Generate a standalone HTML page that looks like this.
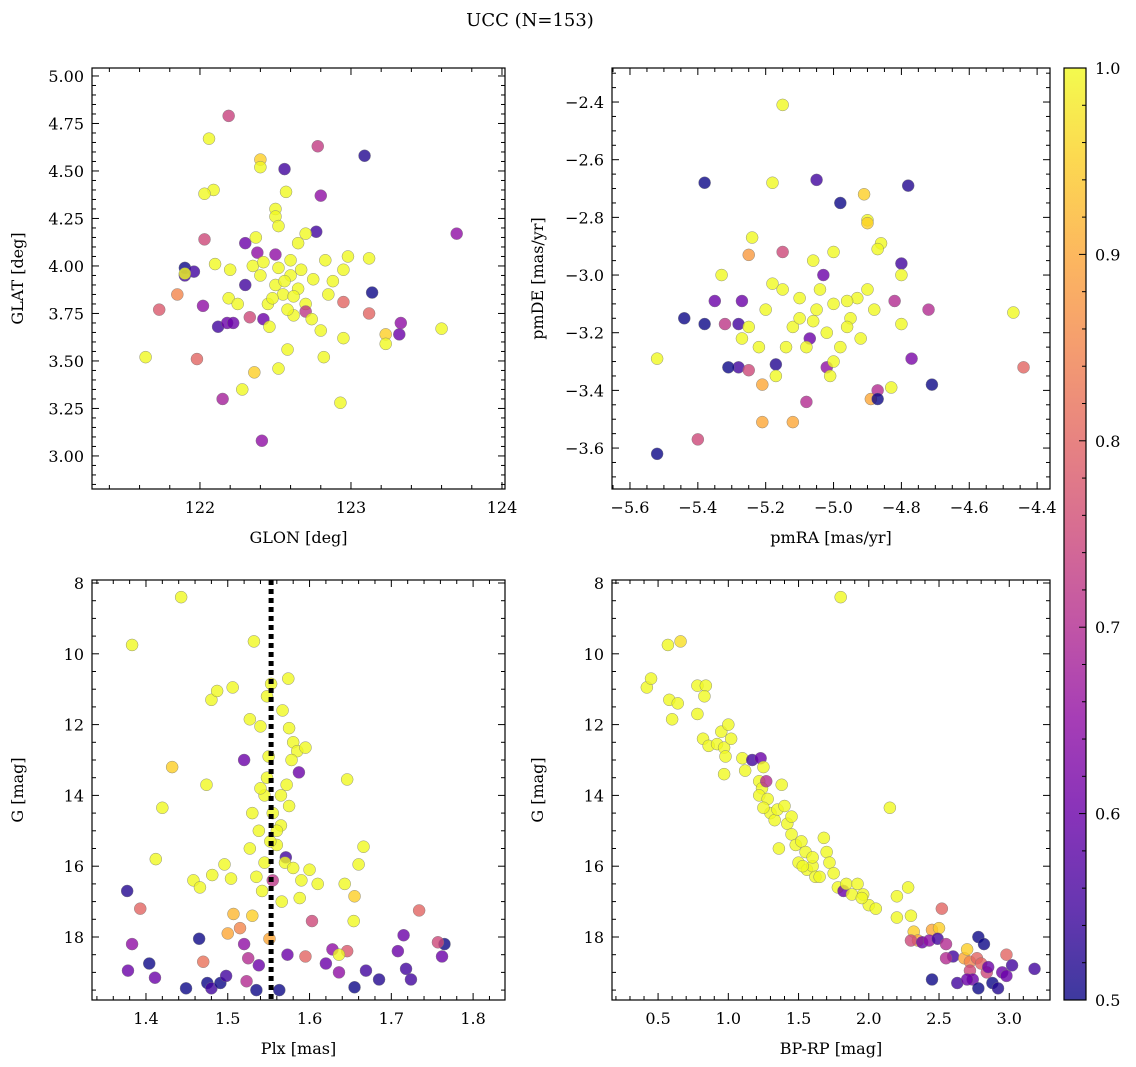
<!DOCTYPE html>
<html><head><meta charset="utf-8"><style>
html,body{margin:0;padding:0;background:#fff;}
svg{display:block;font-family:"DejaVu Serif","Liberation Serif",serif;}
</style></head><body>
<svg id="fig" width="1136" height="1067" viewBox="0 0 1136 1067">
<text x="530" y="26" font-size="18" text-anchor="middle">UCC (N=153)</text>
</svg>
<script>
const NS='http://www.w3.org/2000/svg';
const svg=document.getElementById('fig');
// ---- data ----
const glonGlat=[[122.19,4.79,.74],[122.06,4.67,1],[122.40,4.56,.95],[122.40,4.52,1],[122.56,4.51,.55],[122.78,4.63,.73],[123.09,4.58,.52],[122.80,4.37,.65],[122.09,4.40,1],[122.03,4.38,1],[122.57,4.39,1],[122.50,4.30,1],[122.50,4.26,1],[122.52,4.21,1],[123.70,4.17,.65],[122.03,4.14,.75],[122.30,4.12,.6],[122.37,4.15,1],[121.90,3.99,.5],[121.90,3.95,.55],[121.96,3.97,.55],[121.90,3.96,1],[121.85,3.85,.85],[121.73,3.77,.78],[121.64,3.52,1],[121.98,3.51,.8],[122.02,3.79,.65],[122.19,3.83,1],[122.12,3.68,.55],[122.18,3.70,.6],[122.22,3.70,.6],[122.15,3.30,.68],[122.28,3.35,1],[122.36,3.44,.95],[122.52,3.46,1],[122.58,3.56,1],[122.41,3.08,.65],[122.93,3.28,1],[123.14,3.86,.5],[123.12,3.75,.8],[122.95,3.81,.8],[123.23,3.64,.95],[123.23,3.59,1],[123.32,3.64,.6],[123.33,3.70,.65],[123.60,3.67,1],[123.12,4.04,1],[122.98,4.05,1],[122.95,3.98,1],[122.83,4.03,1],[122.77,4.18,.55],[122.70,4.17,1],[122.65,4.12,1],[122.82,3.52,1],[122.95,3.62,1],[122.80,3.66,1],[122.45,3.80,1],[122.50,3.90,1],[122.55,3.85,1],[122.60,3.95,1],[122.65,3.88,1],[122.70,3.80,1],[122.40,3.95,1],[122.35,4.00,1],[122.30,3.90,.55],[122.42,3.72,.6],[122.46,3.68,1],[122.62,3.74,1],[122.70,3.76,.72],[122.74,3.72,1],[122.85,3.85,1],[122.88,3.92,1],[122.25,3.80,1],[122.33,3.73,.75],[122.38,4.07,.65],[122.42,4.02,1],[122.10,4.01,1],[122.20,3.98,1],[122.60,4.03,1],[122.67,3.98,1],[122.75,3.93,1],[122.50,4.06,.65],[122.52,3.99,1],[122.58,3.77,1],[122.48,3.83,1],[122.62,3.84,1],[122.56,3.92,1]];
const pmData=[[-5.15,-2.41,1],[-5.38,-2.68,.5],[-5.18,-2.68,1],[-5.05,-2.67,.55],[-4.78,-2.69,.52],[-4.91,-2.72,.95],[-4.98,-2.75,.5],[-4.90,-2.81,1],[-4.90,-2.82,.95],[-4.86,-2.89,1],[-4.87,-2.91,1],[-5.24,-2.87,1],[-5.25,-2.93,.88],[-5.15,-2.92,.75],[-4.80,-2.96,.55],[-5.33,-3.00,1],[-5.03,-3.00,.6],[-5.35,-3.09,.6],[-5.27,-3.09,.6],[-5.44,-3.15,.5],[-5.38,-3.17,.5],[-5.32,-3.17,.72],[-5.28,-3.17,.55],[-5.25,-3.18,1],[-5.28,-3.32,.55],[-5.31,-3.32,.5],[-5.25,-3.33,.75],[-5.17,-3.31,.52],[-5.07,-3.22,.6],[-5.52,-3.29,1],[-5.52,-3.62,.5],[-5.40,-3.57,.75],[-5.21,-3.51,.9],[-5.12,-3.51,.9],[-5.21,-3.38,.9],[-5.08,-3.44,.7],[-5.02,-3.32,.65],[-4.89,-3.43,.9],[-4.87,-3.40,.7],[-4.87,-3.43,.5],[-4.83,-3.39,1],[-4.77,-3.29,.62],[-4.71,-3.38,.5],[-4.82,-3.09,.7],[-4.80,-3.17,1],[-4.72,-3.12,.7],[-4.80,-3.00,1],[-4.47,-3.13,1],[-4.44,-3.32,.8],[-5.18,-3.03,1],[-5.15,-3.05,1],[-5.10,-3.08,1],[-5.05,-3.12,1],[-5.00,-3.10,1],[-4.95,-3.15,1],[-5.02,-3.20,1],[-5.08,-3.25,1],[-5.12,-3.18,1],[-4.98,-3.25,1],[-4.93,-3.08,1],[-5.20,-3.12,1],[-5.10,-3.15,1],[-5.04,-3.05,1],[-4.96,-3.18,1],[-5.00,-3.30,1],[-4.88,-3.12,1],[-5.06,-2.95,1],[-5.00,-2.92,1],[-5.14,-3.25,1],[-5.22,-3.25,1],[-4.92,-3.22,1],[-5.01,-3.35,1],[-5.17,-3.35,1],[-5.27,-3.22,1],[-4.90,-3.05,1],[-4.96,-3.09,1],[-5.06,-3.16,1]];
const plxData=[[1.443,8.4,1],[1.383,9.75,1],[1.532,9.65,1],[1.432,13.2,.95],[1.420,14.35,1],[1.412,15.8,1],[1.377,16.7,.52],[1.393,17.2,.8],[1.383,18.2,.65],[1.378,18.95,.6],[1.411,19.15,.6],[1.404,18.75,.5],[1.449,19.45,.5],[1.458,16.4,1],[1.466,16.6,1],[1.480,11.3,1],[1.487,11.05,1],[1.506,10.95,1],[1.474,13.7,1],[1.481,16.25,1],[1.504,16.35,1],[1.496,15.95,1],[1.507,17.35,.92],[1.500,17.9,.9],[1.515,17.75,.85],[1.520,13.0,.6],[1.527,11.85,1],[1.465,18.05,.5],[1.470,18.7,.82],[1.475,19.3,.5],[1.480,19.45,.55],[1.491,19.3,.5],[1.498,19.1,.55],[1.520,18.2,.65],[1.523,19.25,.7],[1.525,18.6,.7],[1.535,19.5,.5],[1.538,18.8,.6],[1.563,19.5,.5],[1.573,18.5,.6],[1.551,18.05,.9],[1.555,16.4,.72],[1.571,15.75,.55],[1.566,17.0,1],[1.587,13.35,.6],[1.603,17.55,.75],[1.620,18.75,.6],[1.595,18.55,.8],[1.628,18.35,.65],[1.636,19.0,.65],[1.646,18.4,.78],[1.636,18.5,1],[1.655,16.85,.95],[1.654,17.55,1],[1.646,13.55,1],[1.666,15.45,1],[1.660,15.95,1],[1.643,16.5,1],[1.669,18.95,.55],[1.685,19.2,.52],[1.708,18.4,.6],[1.734,17.25,.8],[1.715,17.95,.6],[1.718,18.9,.55],[1.724,19.2,.55],[1.765,18.2,.5],[1.757,18.15,.75],[1.762,18.55,.6],[1.655,19.42,.5],[1.540,12.05,1],[1.548,11.2,1],[1.553,10.85,1],[1.574,10.7,1],[1.567,11.6,1],[1.575,12.1,1],[1.580,12.5,1],[1.585,12.75,1],[1.595,12.65,1],[1.578,13.0,1],[1.575,14.3,1],[1.565,14.85,1],[1.560,15.4,1],[1.545,15.9,1],[1.538,15.0,1],[1.545,14.0,1],[1.548,13.5,1],[1.550,12.9,1],[1.540,13.8,1],[1.555,14.5,1],[1.560,15.0,1],[1.570,15.9,1],[1.580,16.05,1],[1.590,16.4,1],[1.600,16.1,1],[1.610,16.5,1],[1.588,16.9,1],[1.535,16.3,1],[1.527,15.5,1],[1.530,14.5,1],[1.572,13.7,1],[1.565,14.0,1],[1.552,15.3,1],[1.542,16.7,1],[1.530,17.4,.95]];
const cmdData=[[1.80,8.4,1],[0.57,9.75,1],[0.66,9.65,.97],[0.42,10.95,1],[0.45,10.7,1],[0.58,11.3,1],[0.60,11.85,1],[0.64,11.4,1],[0.78,10.9,1],[0.84,10.9,1],[0.83,11.2,1],[0.78,11.7,1],[0.82,12.4,1],[0.86,12.6,1],[0.92,12.55,1],[0.95,12.2,1],[0.97,12.65,1],[1.02,12.4,1],[0.98,12.9,1],[0.97,13.4,1],[1.10,12.95,1],[1.12,13.3,1],[1.17,13.0,.55],[1.23,12.95,.6],[1.25,13.2,1],[1.22,13.6,1],[1.24,13.8,1],[1.22,14.0,1],[1.27,13.6,.7],[1.28,14.1,1],[1.30,14.5,1],[1.25,14.35,1],[1.33,14.7,1],[1.35,14.4,1],[1.38,13.7,1],[1.40,14.3,1],[1.42,14.8,1],[1.36,15.5,1],[1.45,14.6,1],[1.45,15.1,1],[1.48,15.4,1],[1.52,15.3,1],[1.55,15.6,1],[1.50,15.9,1],[1.56,16.1,1],[1.60,16.0,1],[1.62,16.3,1],[1.68,15.2,1],[1.70,15.6,1],[1.72,15.9,1],[1.75,16.2,1],[1.78,16.6,1],[1.82,16.7,.6],[1.84,16.5,1],[1.88,16.8,1],[1.92,16.5,1],[1.96,16.8,1],[2.00,17.1,1],[2.15,14.35,1],[2.20,16.85,1],[2.28,16.6,1],[2.30,17.4,1],[2.20,17.45,1],[2.32,17.85,.95],[2.35,18.1,.9],[2.30,18.1,.75],[2.45,17.8,.9],[2.50,17.75,.95],[2.52,17.2,.8],[2.38,18.15,.6],[2.43,18.1,.65],[2.49,18.05,.55],[2.45,19.2,.5],[2.55,18.2,.7],[2.60,18.55,.55],[2.63,19.3,.55],[2.68,18.6,.9],[2.70,18.35,.95],[2.72,18.7,.85],[2.72,18.95,.75],[2.77,18.6,.8],[2.78,18.0,.5],[2.82,18.2,.5],[2.80,18.75,.8],[2.84,19.0,.75],[2.85,18.85,.6],[2.88,19.3,.5],[2.92,19.45,.52],[2.95,19.0,.6],[2.98,18.5,.8],[3.02,18.8,.55],[3.18,18.9,.55],[2.74,19.2,.6],[2.78,19.45,.5],[2.70,19.2,.6],[2.98,19.1,.6],[2.55,18.6,.7],[1.60,15.75,1],[1.65,16.3,1],[1.53,16.0,1],[1.95,16.9,1],[2.05,17.2,1],[1.00,12.0,1]];
const plxMedian=[1.553];
const cbTicks=[0.5,0.6,0.7,0.8,0.9,1.0];
// ---- colormap ----
const plasma=['#0d0887','#41049d','#6a00a8','#8f0da4','#b12a90','#cc4778','#e16462','#f2844b','#fca636','#fcce25','#f0f921'];
function hex(h){return [1,3,5].map(i=>parseInt(h.substr(i,2),16));}
function cmap(p){let t=Math.max(0,Math.min(1,(p-0.5)/0.5))*10;let i=Math.min(9,Math.floor(t));let f=t-i;let a=hex(plasma[i]),b=hex(plasma[i+1]);return 'rgb('+a.map((v,k)=>Math.round(v+(b[k]-v)*f)).join(',')+')';}
function el(tag,attrs,parent){const e=document.createElementNS(NS,tag);for(const k in attrs)e.setAttribute(k,attrs[k]);(parent||svg).appendChild(e);return e;}
function fmt(v,d){return (v<0?'\u2212':'')+Math.abs(v).toFixed(d);}
function panel(cfg){
  const {name,x0,x1,y0,y1,xmin,xmax,ymin,ymax,inv,xMaj,xMin,yMaj,yMin,xd,yd,xlab,ylab,data}=cfg;
  const g=el('g',{});
  
  
  const sx=v=>x0+(v-xmin)/(xmax-xmin)*(x1-x0);
  const sy=v=>inv? y0+(v-ymin)/(ymax-ymin)*(y1-y0) : y1-(v-ymin)/(ymax-ymin)*(y1-y0);
  const pts=el('g',{},g);
  
  
  data.forEach(d=>{const c=el('circle',{cx:sx(d[0]),cy:sy(d[1]),r:6,fill:cmap(d[2]),'fill-opacity':0.8,stroke:'#777','stroke-width':0.4},pts);
    
    });
  if(cfg.vline){cfg.vline.forEach(v=>{const l=el('line',{x1:sx(v),x2:sx(v),y1:y0,y2:y1,stroke:'#000','stroke-width':5,'stroke-dasharray':'5,4'},g);
    
    });}
  el('rect',{x:x0,y:y0,width:x1-x0,height:y1-y0,fill:'none',stroke:'#000','stroke-width':1.2},g);
  const tk=el('g',{stroke:'#000','stroke-width':1},g);
  const e=1e-9;
  for(let v=Math.ceil(xmin/xMin-e)*xMin;v<=xmax+e;v+=xMin){const X=sx(v);const maj=Math.abs(v/xMaj-Math.round(v/xMaj))<1e-6;const L=maj?7:4;
    el('line',{x1:X,x2:X,y1:y1,y2:y1-L},tk);el('line',{x1:X,x2:X,y1:y0,y2:y0+L},tk);
    if(maj){const t=el('text',{x:X,y:y1+24,'font-size':16,'text-anchor':'middle'},g);t.textContent=fmt(v,xd);
      
      }}
  for(let v=Math.ceil(ymin/yMin-e)*yMin;v<=ymax+e;v+=yMin){const Y=sy(v);const maj=Math.abs(v/yMaj-Math.round(v/yMaj))<1e-6;const L=maj?7:4;
    el('line',{x1:x0,x2:x0+L,y1:Y,y2:Y},tk);el('line',{x1:x1,x2:x1-L,y1:Y,y2:Y},tk);
    if(maj){const t=el('text',{x:x0-8,y:Y+6,'font-size':16,'text-anchor':'end'},g);t.textContent=fmt(v,yd);
      
      }}
  const xl=el('text',{x:(x0+x1)/2,y:y1+54,'font-size':16,'text-anchor':'middle'},g);xl.textContent=xlab;
  
  
  const yx=x0-69, yy=(y0+y1)/2;
  const yl=el('text',{x:yx,y:yy,'font-size':16,'text-anchor':'middle',transform:`rotate(-90 ${yx} ${yy})`},g);yl.textContent=ylab;
  
  
}
panel({name:'glon-glat-panel',x0:92,x1:505,y0:68,y1:489,xmin:121.285,xmax:124.02,ymin:2.826,ymax:5.042,xMaj:1,xMin:0.2,yMaj:0.25,yMin:0.05,xd:0,yd:2,xlab:'GLON [deg]',ylab:'GLAT [deg]',data:glonGlat});
panel({name:'proper-motion-panel',x0:612,x1:1050,y0:68,y1:489,xmin:-5.653,xmax:-4.362,ymin:-3.742,ymax:-2.282,xMaj:0.2,xMin:0.05,yMaj:0.2,yMin:0.05,xd:1,yd:1,xlab:'pmRA [mas/yr]',ylab:'pmDE [mas/yr]',data:pmData});
panel({name:'plx-g-panel',x0:92,x1:505,y0:580,y1:1000,xmin:1.334,xmax:1.839,ymin:7.915,ymax:19.78,inv:true,xMaj:0.1,xMin:0.02,yMaj:2,yMin:0.5,xd:1,yd:0,xlab:'Plx [mas]',ylab:'G [mag]',data:plxData,vline:plxMedian});
panel({name:'cmd-panel',x0:612,x1:1050,y0:580,y1:1000,xmin:0.172,xmax:3.29,ymin:7.915,ymax:19.78,inv:true,xMaj:0.5,xMin:0.1,yMaj:2,yMin:0.5,xd:1,yd:0,xlab:'BP-RP [mag]',ylab:'G [mag]',data:cmdData});
// colorbar
const cb=el('g',{});


const defs=el('defs',{},cb);
const lg=el('linearGradient',{id:'cbg',x1:0,y1:1,x2:0,y2:0},defs);
plasma.forEach((c,i)=>el('stop',{offset:i/10,'stop-color':c},lg));
const cx0=1064,cx1=1086,cy0=68,cy1=1000;
el('rect',{x:cx0,y:cy0,width:cx1-cx0,height:cy1-cy0,fill:'url(#cbg)','fill-opacity':0.8},cb);
el('rect',{x:cx0,y:cy0,width:cx1-cx0,height:cy1-cy0,fill:'none',stroke:'#000','stroke-width':1.2},cb);
const cy=v=>cy1-(v-0.5)/0.5*(cy1-cy0);
for(let i=0;i<=25;i++){const v=0.5+i*0.02;const maj=i%5===0;const Y=cy(v);
  el('line',{x1:cx1,x2:cx1-(maj?7:4),y1:Y,y2:Y,stroke:'#000','stroke-width':1},cb);}
cbTicks.forEach(v=>{const t=el('text',{x:cx1+9,y:cy(v)+6,'font-size':16},cb);t.textContent=v.toFixed(1);
  
  });
</script>
</body></html>
